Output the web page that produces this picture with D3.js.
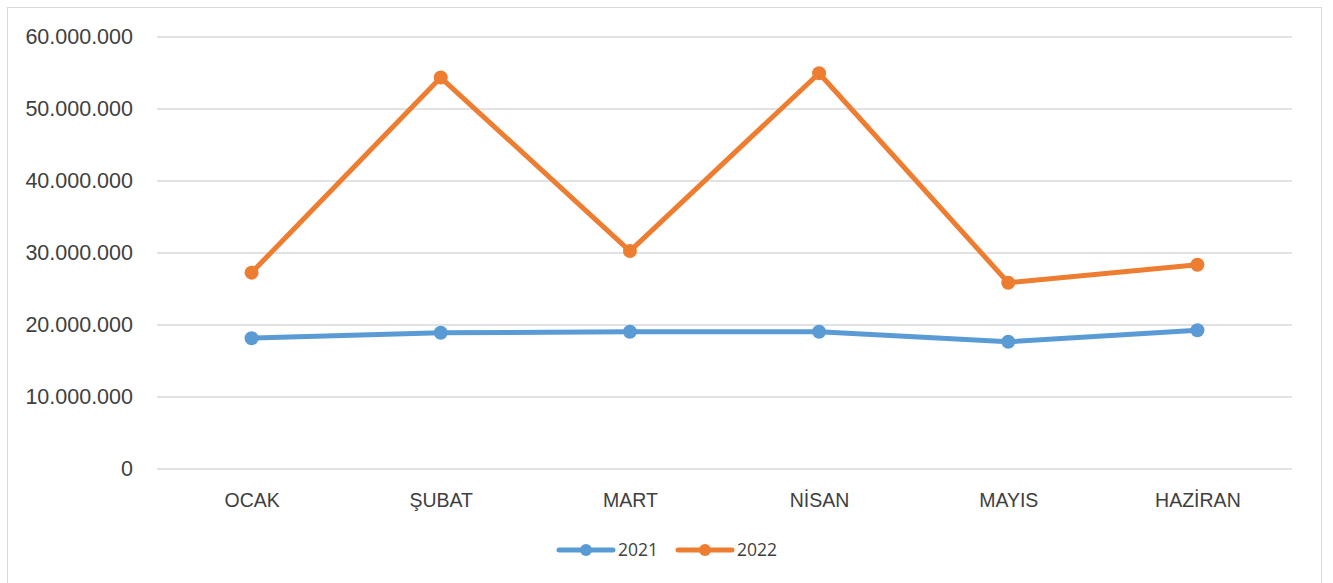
<!DOCTYPE html>
<html>
<head>
<meta charset="utf-8">
<script src="https://cdn.jsdelivr.net/npm/d3@7"></script>
<style>
  body { margin: 0; background: #fff; }
  svg { font-family: "Open Sans", "Liberation Sans", sans-serif; }
</style>
</head>
<body>
<svg id="plot" width="1333" height="583"></svg>
<script>
const months = ["OCAK", "ŞUBAT", "MART", "NİSAN", "MAYIS", "HAZİRAN"]
const values2021 = [18100000, 18850000, 19000000, 19000000, 17600000, 19200000]
const values2022 = [27200000, 54300000, 30200000, 54900000, 25800000, 28300000]
const yTicks = [0, 10000000, 20000000, 30000000, 40000000, 50000000, 60000000]

const series = [
    { name: "2021", color: "#5b9bd5", values: values2021 },
    { name: "2022", color: "#ed7d31", values: values2022 }
]

width = 1333
height = 583

margin = ({ top: 36.5, right: 41, bottom: 114.5, left: 157 })

const svg = d3.select("#plot");

// outer frame
svg.append("rect")
    .attr("x", 7.5).attr("y", 7.5)
    .attr("width", 1314).attr("height", 600)
    .attr("fill", "none")
    .attr("stroke", "#d9d9d9")
    .attr("stroke-width", 1);

x = d3.scalePoint()
    .domain(months)
    .range([margin.left, width - margin.right])
    .padding(0.5)

y = d3.scaleLinear()
    .domain([0, 60000000])
    .range([height - margin.bottom, margin.top])

const fmt = v => d3.format(",")(v).replace(/,/g, ".")

yAxis = g => g
    .attr("transform", `translate(${margin.left},0)`)
    .call(d3.axisLeft(y).tickValues(yTicks).tickFormat(fmt)
        .tickSize(-(width - margin.left - margin.right)).tickPadding(24))
    .call(g => g.select(".domain").remove())
    .call(g => g.selectAll(".tick line").attr("stroke", "#d9d9d9").attr("stroke-width", 1.3))
    .call(g => g.selectAll(".tick text").attr("fill", "#404040").attr("font-size", 21.5))

xAxis = g => g
    .attr("transform", `translate(0,${height - margin.bottom})`)
    .call(d3.axisBottom(x).tickSize(0).tickPadding(25))
    .call(g => g.select(".domain").remove())
    .call(g => g.selectAll(".tick text").attr("fill", "#404040").attr("font-size", 19.5))

svg.append("g").call(yAxis);
svg.append("g").call(xAxis);

line = d3.line()
    .x((d, i) => x(months[i]))
    .y(d => y(d))

for (const s of series) {
    svg.append("path")
        .datum(s.values)
        .attr("fill", "none")
        .attr("stroke", s.color)
        .attr("stroke-width", 5)
        .attr("stroke-linejoin", "round")
        .attr("stroke-linecap", "round")
        .attr("d", line);

    svg.append("g")
        .selectAll("circle")
        .data(s.values)
        .join("circle")
        .attr("cx", (d, i) => x(months[i]))
        .attr("cy", d => y(d))
        .attr("r", 7)
        .attr("fill", s.color);
}

// legend
const legend = svg.append("g")
    .attr("transform", "translate(559,550)")
    .selectAll("g")
    .data(series)
    .join("g")
    .attr("transform", (d, i) => `translate(${i * 119},0)`);

legend.append("line")
    .attr("x1", 0).attr("x2", 54)
    .attr("stroke", d => d.color)
    .attr("stroke-width", 5)
    .attr("stroke-linecap", "round");

legend.append("circle")
    .attr("cx", 27).attr("r", 6)
    .attr("fill", d => d.color);

legend.append("text")
    .attr("x", 59)
    .attr("dy", "0.35em")
    .attr("fill", "#404040")
    .attr("font-size", 17.5)
    .text(d => d.name);
</script>
</body>
</html>
